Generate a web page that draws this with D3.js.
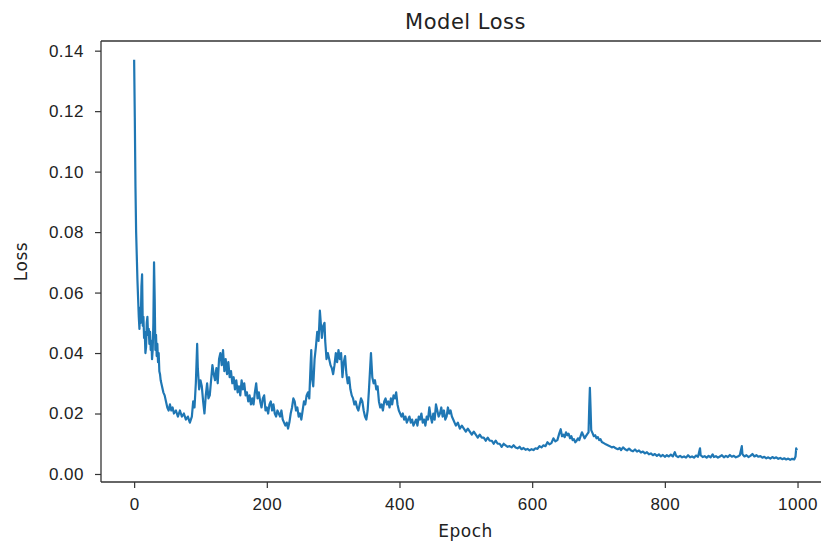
<!DOCTYPE html>
<html>
<head>
<meta charset="utf-8">
<script src="https://cdn.jsdelivr.net/npm/d3@7"></script>
<style>
  html, body { margin: 0; padding: 0; background: #fff; overflow: hidden; }
  svg { display: block; font-family: 'DejaVu Sans', sans-serif; }
</style>
</head>
<body>
<div id="chart"></div>
<script>
const title = 'Model Loss'
const xLabel = 'Epoch'
const yLabel = 'Loss'
const xTicks = [0, 200, 400, 600, 800, 1000]
const yTicks = [0.00, 0.02, 0.04, 0.06, 0.08, 0.10, 0.12, 0.14]

// [epoch, loss]
const lossByEpoch = [
  [0, 0.137], [1, 0.118], [2, 0.095], [3, 0.080], [4, 0.072], [5, 0.064], [6, 0.058], [7, 0.052],
  [8, 0.048], [9, 0.055], [10, 0.050], [11, 0.062], [12, 0.066], [13, 0.049], [14, 0.052], [15, 0.045],
  [16, 0.047], [17, 0.040], [18, 0.042], [19, 0.050], [20, 0.052], [21, 0.046], [22, 0.048], [23, 0.043],
  [24, 0.047], [25, 0.041], [26, 0.044], [27, 0.038], [28, 0.041], [29, 0.050], [30, 0.070], [31, 0.058],
  [32, 0.041], [33, 0.046], [34, 0.039], [35, 0.043], [36, 0.037], [37, 0.040], [38, 0.034], [39, 0.033],
  [40, 0.031], [42, 0.029], [44, 0.027], [46, 0.026], [48, 0.024], [50, 0.022], [52, 0.021], [54, 0.023],
  [56, 0.021], [58, 0.022], [60, 0.020], [63, 0.021], [66, 0.019], [69, 0.021], [72, 0.019], [75, 0.020],
  [78, 0.018], [81, 0.019], [84, 0.017], [87, 0.019], [89, 0.024], [91, 0.022], [93, 0.030], [95, 0.043],
  [96, 0.035], [98, 0.028], [100, 0.031], [102, 0.029], [104, 0.024], [106, 0.020], [108, 0.026], [110, 0.030],
  [112, 0.025], [114, 0.026], [116, 0.031], [118, 0.036], [120, 0.033], [122, 0.031], [124, 0.035], [126, 0.030],
  [128, 0.038], [130, 0.040], [132, 0.036], [134, 0.041], [136, 0.034], [138, 0.038], [140, 0.033], [142, 0.037],
  [144, 0.032], [146, 0.034], [148, 0.030], [150, 0.032], [152, 0.028], [154, 0.031], [156, 0.027], [158, 0.029],
  [160, 0.026], [162, 0.031], [164, 0.028], [166, 0.030], [168, 0.026], [170, 0.027], [172, 0.024], [174, 0.026],
  [176, 0.023], [178, 0.025], [180, 0.023], [182, 0.027], [184, 0.030], [186, 0.025], [188, 0.027], [190, 0.024],
  [192, 0.022], [194, 0.025], [196, 0.026], [198, 0.021], [200, 0.022], [202, 0.020], [204, 0.023], [206, 0.024],
  [208, 0.021], [210, 0.023], [212, 0.020], [214, 0.019], [216, 0.021], [218, 0.020], [220, 0.019], [222, 0.021],
  [224, 0.018], [226, 0.017], [228, 0.016], [230, 0.017], [232, 0.015], [234, 0.017], [236, 0.020], [238, 0.022],
  [240, 0.025], [242, 0.024], [244, 0.021], [246, 0.022], [248, 0.019], [250, 0.020], [252, 0.018], [254, 0.021],
  [256, 0.024], [258, 0.023], [260, 0.026], [262, 0.027], [264, 0.025], [266, 0.036], [267, 0.041], [268, 0.032],
  [270, 0.029], [272, 0.038], [274, 0.042], [276, 0.047], [278, 0.044], [280, 0.054], [281, 0.051], [283, 0.045],
  [285, 0.049], [287, 0.050], [288, 0.044], [290, 0.038], [292, 0.040], [294, 0.038], [296, 0.036], [298, 0.035],
  [300, 0.033], [302, 0.036], [304, 0.040], [306, 0.037], [308, 0.041], [310, 0.038], [312, 0.040], [314, 0.032],
  [316, 0.037], [318, 0.039], [320, 0.033], [322, 0.030], [324, 0.032], [326, 0.028], [328, 0.026], [330, 0.025],
  [332, 0.023], [334, 0.024], [336, 0.022], [338, 0.021], [340, 0.023], [342, 0.025], [344, 0.024], [346, 0.021],
  [348, 0.019], [350, 0.018], [352, 0.021], [354, 0.028], [356, 0.036], [357, 0.040], [359, 0.032], [361, 0.030],
  [363, 0.031], [365, 0.028], [367, 0.029], [369, 0.024], [371, 0.022], [373, 0.023], [375, 0.021], [377, 0.024],
  [379, 0.025], [381, 0.023], [383, 0.024], [385, 0.022], [387, 0.025], [389, 0.023], [391, 0.026], [393, 0.025],
  [395, 0.027], [397, 0.023], [399, 0.021], [401, 0.020], [403, 0.019], [405, 0.020], [407, 0.018], [409, 0.019],
  [411, 0.017], [413, 0.018], [415, 0.019], [417, 0.017], [419, 0.018], [421, 0.016], [423, 0.017], [425, 0.018],
  [427, 0.016], [429, 0.019], [431, 0.018], [433, 0.020], [435, 0.017], [437, 0.018], [439, 0.016], [441, 0.019],
  [443, 0.018], [445, 0.022], [447, 0.019], [449, 0.017], [451, 0.020], [453, 0.018], [455, 0.023], [457, 0.021],
  [459, 0.019], [461, 0.020], [463, 0.022], [465, 0.019], [467, 0.021], [469, 0.018], [471, 0.019], [473, 0.022],
  [475, 0.020], [477, 0.021], [479, 0.019], [481, 0.018], [483, 0.017], [485, 0.016], [488, 0.017], [491, 0.015],
  [494, 0.016], [497, 0.015], [500, 0.014], [503, 0.015], [506, 0.014], [509, 0.013], [512, 0.014], [515, 0.013],
  [518, 0.012], [521, 0.013], [524, 0.012], [527, 0.012], [530, 0.011], [533, 0.012], [536, 0.011], [539, 0.011],
  [542, 0.010], [545, 0.011], [548, 0.010], [551, 0.010], [554, 0.009], [557, 0.010], [560, 0.0095], [563, 0.009],
  [566, 0.0092], [569, 0.0088], [572, 0.0095], [575, 0.0088], [578, 0.0085], [581, 0.009], [584, 0.0082], [587, 0.0086],
  [590, 0.008], [593, 0.0083], [596, 0.0078], [599, 0.0082], [602, 0.0079], [605, 0.0085], [608, 0.0083], [611, 0.0092],
  [614, 0.0088], [617, 0.0095], [620, 0.0092], [623, 0.0105], [626, 0.0098], [629, 0.0102], [632, 0.0118], [635, 0.0108],
  [638, 0.0112], [641, 0.0135], [643, 0.0148], [645, 0.0125], [647, 0.013], [649, 0.0122], [651, 0.0138], [653, 0.0128],
  [655, 0.0133], [657, 0.0118], [659, 0.0125], [661, 0.0112], [663, 0.0115], [665, 0.0105], [667, 0.011], [669, 0.0118],
  [671, 0.0112], [673, 0.0125], [675, 0.0138], [677, 0.0128], [679, 0.0118], [681, 0.0125], [683, 0.0132], [685, 0.0138],
  [686, 0.022], [687, 0.0285], [688, 0.022], [689, 0.0145], [691, 0.0135], [693, 0.0125], [695, 0.0128], [697, 0.0118],
  [699, 0.0122], [701, 0.0112], [703, 0.0115], [705, 0.0106], [708, 0.0102], [711, 0.0098], [714, 0.0095], [717, 0.0092],
  [720, 0.0088], [723, 0.009], [726, 0.0085], [729, 0.0082], [732, 0.0086], [734, 0.0079], [737, 0.0088], [740, 0.0082],
  [743, 0.0078], [746, 0.0084], [749, 0.0078], [752, 0.0075], [755, 0.0081], [758, 0.0074], [761, 0.0078], [764, 0.0071],
  [767, 0.0074], [770, 0.0068], [773, 0.0072], [776, 0.0065], [779, 0.0068], [782, 0.0062], [785, 0.0066], [788, 0.006],
  [791, 0.0065], [794, 0.0058], [797, 0.0063], [800, 0.0057], [803, 0.0062], [806, 0.0058], [809, 0.0064], [812, 0.0058],
  [815, 0.0072], [817, 0.006], [820, 0.0056], [823, 0.006], [826, 0.0055], [829, 0.0058], [832, 0.0054], [835, 0.0062],
  [838, 0.0055], [841, 0.0058], [844, 0.0054], [847, 0.0061], [850, 0.0057], [853, 0.0085], [854, 0.0062], [857, 0.0056],
  [860, 0.0059], [863, 0.0054], [866, 0.006], [869, 0.0055], [872, 0.0065], [874, 0.0056], [877, 0.0059], [880, 0.0054],
  [883, 0.0058], [886, 0.0062], [889, 0.0055], [892, 0.006], [895, 0.0056], [898, 0.0063], [901, 0.0057], [904, 0.006],
  [907, 0.0055], [910, 0.0058], [913, 0.0062], [916, 0.0092], [917, 0.0065], [920, 0.0058], [923, 0.0062], [926, 0.0056],
  [929, 0.006], [932, 0.0066], [935, 0.0058], [938, 0.0062], [941, 0.0057], [944, 0.0059], [947, 0.0054], [950, 0.0057],
  [953, 0.0052], [956, 0.0055], [959, 0.0051], [962, 0.0056], [965, 0.0052], [968, 0.0055], [971, 0.005], [974, 0.0053],
  [977, 0.0049], [980, 0.0052], [983, 0.0048], [986, 0.0051], [989, 0.0047], [992, 0.005], [995, 0.0048], [997, 0.0058],
  [998, 0.0085], [999, 0.0078],
]

const width = 821
const height = 543
// the plot box runs past the right edge of the picture, as in the original
const margin = {top: 41, right: -9, bottom: 61, left: 101}

const svg = d3.select('#chart').append('svg')
  .attr('width', width)
  .attr('height', height)

const x = d3.scaleLinear()
  .domain([-49.95, 1048.95])
  .range([margin.left, width - margin.right])

const y = d3.scaleLinear()
  .domain([-0.00265, 0.1432])
  .range([height - margin.bottom, margin.top])

const line = d3.line()
  .x(d => x(d[0]))
  .y(d => y(d[1]))

svg.append('path')
  .datum(lossByEpoch)
  .attr('fill', 'none')
  .attr('stroke', '#1f77b4')
  .attr('stroke-width', 2.2)
  .attr('stroke-linejoin', 'round')
  .attr('d', line)

const xAxis = svg.append('g')
  .attr('transform', `translate(0,${height - margin.bottom})`)
  .call(d3.axisBottom(x).tickValues(xTicks).tickFormat(d3.format('d')).tickSize(6).tickPadding(10))

const yAxis = svg.append('g')
  .attr('transform', `translate(${margin.left},0)`)
  .call(d3.axisLeft(y).tickValues(yTicks).tickFormat(d3.format('.2f')).tickSize(6).tickPadding(11))

for (const axis of [xAxis, yAxis]) {
  axis.select('.domain').remove()
  axis.selectAll('.tick line').attr('stroke', '#333').attr('stroke-width', 1.2)
  axis.selectAll('.tick text')
    .attr('fill', '#222')
    .style('font-size', '17px')
    .style('letter-spacing', '0.5px')
}

// spines: left, bottom, top (right one falls outside the picture)
const spines = svg.append('g')
  .attr('stroke', '#333')
  .attr('stroke-width', 1.3)
  .attr('fill', 'none')
spines.append('line')
  .attr('x1', margin.left).attr('x2', margin.left)
  .attr('y1', margin.top).attr('y2', height - margin.bottom)
spines.append('line')
  .attr('x1', margin.left).attr('x2', width - margin.right)
  .attr('y1', height - margin.bottom).attr('y2', height - margin.bottom)
spines.append('line')
  .attr('x1', margin.left).attr('x2', width - margin.right)
  .attr('y1', margin.top).attr('y2', margin.top)

const centerX = (margin.left + width - margin.right) / 2

svg.append('text')
  .attr('x', centerX)
  .attr('y', 29)
  .attr('text-anchor', 'middle')
  .attr('fill', '#222')
  .style('font-size', '21px')
  .style('letter-spacing', '0.5px')
  .text(title)

svg.append('text')
  .attr('x', centerX)
  .attr('y', 537)
  .attr('text-anchor', 'middle')
  .attr('fill', '#222')
  .style('font-size', '17px')
  .style('letter-spacing', '0.5px')
  .text(xLabel)

svg.append('text')
  .attr('transform', `translate(27,${(margin.top + height - margin.bottom) / 2}) rotate(-90)`)
  .attr('text-anchor', 'middle')
  .attr('fill', '#222')
  .style('font-size', '17px')
  .style('letter-spacing', '0.5px')
  .text(yLabel)
</script>
</body>
</html>
